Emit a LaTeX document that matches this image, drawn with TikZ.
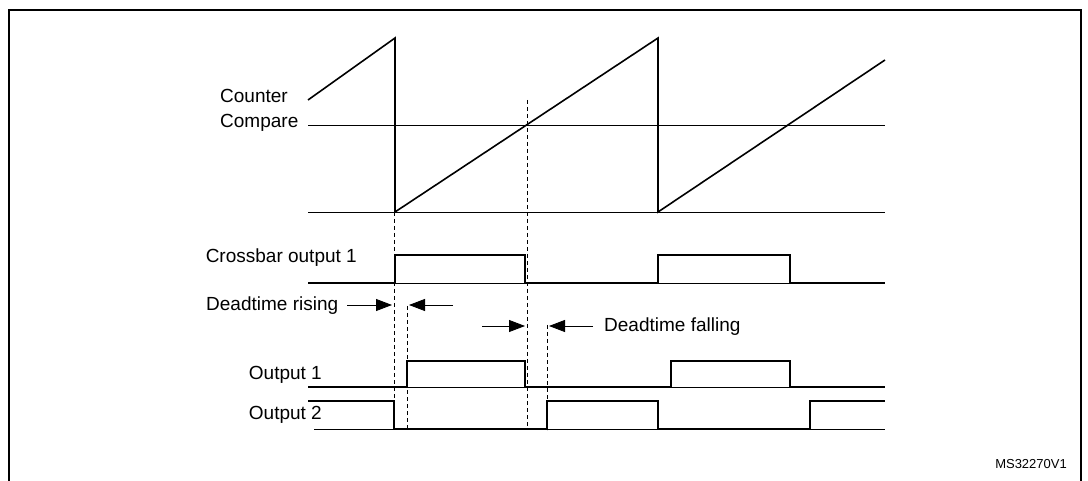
\documentclass[tikz,border=0pt]{standalone}
\usepackage{fontspec}
\setmainfont{Liberation Sans}
\usetikzlibrary{arrows.meta}
\begin{document}
\begin{tikzpicture}[x=1pt,y=-1pt,
  sig/.style={line width=1.6pt},
  ref/.style={line width=0.9pt},
  dsh/.style={line width=0.6pt,dash pattern=on 4pt off 3pt},
  arr/.style={line width=0.8pt,-{Triangle[length=16pt,width=12pt]}},
  lbl/.style={font=\fontsize{19}{22}\selectfont,inner sep=0pt}]
\useasboundingbox (0,0) rectangle (1088,481);
\fill[white] (0,0) rectangle (1088,481);
\draw[line width=1.2pt] (9,485) -- (9,10) -- (1081,10) -- (1081,485);
% sawtooth
\draw[ref] (308,125) -- (885,125);
\draw[ref] (308,212) -- (885,212);
\draw[sig] (308,100) -- (395,38) -- (395,212) -- (658,38) -- (658,212) -- (885,60);
\node[lbl,anchor=west] (cnt) at (220,96) {Counter};
\node[lbl,anchor=west] (cmp) at (220,123) {Compare};
% dashed
\draw[dsh] (394,212) -- (394,430);
\draw[dsh] (407,306) -- (407,430);
\draw[dsh] (527,100) -- (527,430);
\draw[dsh] (547,325) -- (547,430);
% baselines
\draw[ref] (308,283) -- (885,283);
\draw[ref] (308,387) -- (885,387);
\draw[ref] (314,429) -- (885,429);
% crossbar
\draw[sig] (308,283) -- (395,283) -- (395,255) -- (525,255) -- (525,283) -- (658,283) -- (658,255) -- (790,255) -- (790,283) -- (885,283);
\node[lbl,anchor=east] (cb) at (357,258) {Crossbar output 1};
% deadtime
\node[lbl,anchor=west] (dr) at (206,306) {Deadtime rising};
\coordinate (a1) at (347,305); \coordinate (a1e) at (392,305);
\coordinate (a2) at (453,305); \coordinate (a2e) at (409,305);
\coordinate (a3) at (482,326); \coordinate (a3e) at (525,326);
\coordinate (a4) at (593,326); \coordinate (a4e) at (549,326);
\draw[arr] (a1) -- (a1e);
\draw[arr] (a2) -- (a2e);
\draw[arr] (a3) -- (a3e);
\draw[arr] (a4) -- (a4e);
\node[lbl,anchor=west] (df) at (604,327) {Deadtime falling};
% output 1
\draw[sig] (308,387) -- (407,387) -- (407,361) -- (525,361) -- (525,387) -- (671,387) -- (671,361) -- (790,361) -- (790,387) -- (885,387);
\node[lbl,anchor=east] (o1) at (322,375) {Output 1};
% output 2
\draw[sig] (308,401) -- (394,401) -- (394,429) -- (547,429) -- (547,401) -- (658,401) -- (658,429) -- (810,429) -- (810,401) -- (885,401);
\node[lbl,anchor=east] (o2) at (322,415) {Output 2};
\node[font=\fontsize{13}{15}\selectfont,inner sep=0pt,anchor=east] (ms) at (1067,464) {MS32270V1};
\end{tikzpicture}
\end{document}
